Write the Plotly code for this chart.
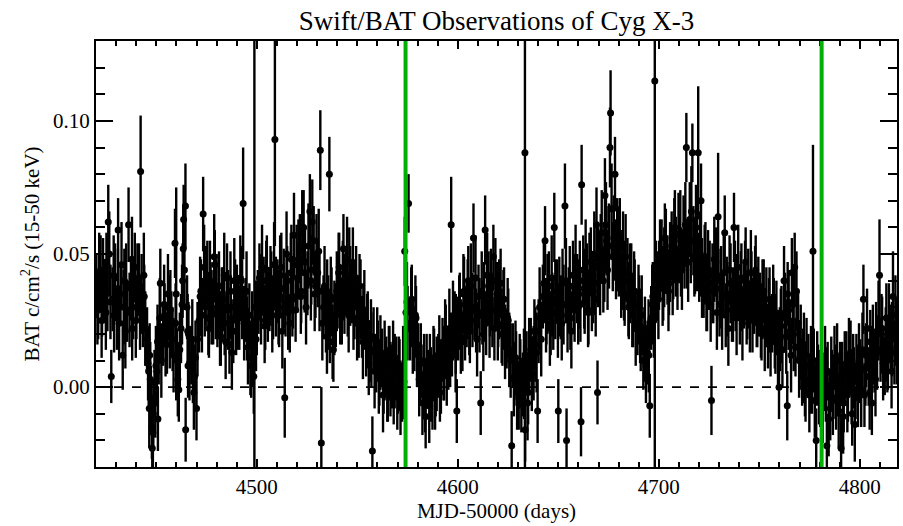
import plotly.graph_objects as go

# ---------------- data ----------------
# first set of points
t = [
    4420.2, 4421.1, 4422.3, 4423.0, 4424.4, 4425.2, 4426.1, 4427.6, 4428.3, 4429.5,
    4430.4, 4431.0, 4432.2, 4433.3, 4434.1, 4435.5, 4436.2, 4437.4, 4438.0, 4439.3,
    4440.1, 4441.4, 4442.2, 4443.3, 4444.0, 4445.4, 4446.2, 4446.7, 4447.3, 4447.8, 4448.0, 4448.5, 4449.1, 4449.5,
    4450.3, 4450.8, 4451.2, 4452.0, 4453.4, 4454.1, 4455.3, 4456.2, 4457.5, 4458.1, 4459.3, 4459.9,
    4460.2, 4461.2, 4462.3, 4463.1, 4463.6, 4464.5, 4464.6, 4465.3, 4465.8, 4466.0, 4467.4, 4468.2, 4469.0,
    4470.0, 4471.3, 4472.2, 4473.3, 4474.1, 4475.4, 4476.2, 4477.0, 4478.3, 4479.1,
    4480.4, 4481.2, 4482.1, 4483.3, 4484.0, 4485.2, 4486.4, 4487.1, 4488.3, 4489.2,
    4490.1, 4491.3, 4492.2, 4493.2, 4494.4, 4495.1, 4496.3, 4497.2, 4498.0, 4498.8, 4499.6,
    4500.5, 4501.3, 4502.1, 4503.4, 4504.2, 4505.0, 4506.3, 4507.2, 4508.1, 4509.0,
    4510.3, 4511.1, 4512.2, 4513.9, 4514.3, 4515.1, 4516.4, 4517.2, 4518.0, 4519.3,
    4520.2, 4521.4, 4522.1, 4523.3, 4524.0, 4525.2, 4526.4, 4527.1, 4528.3, 4529.2,
    4530.3, 4531.6, 4532.1, 4533.2, 4534.4, 4535.0, 4536.1, 4536.3, 4537.2, 4538.1, 4539.3,
    4540.2, 4541.0, 4542.3, 4543.1, 4544.4, 4545.2, 4546.0, 4547.3, 4548.1, 4549.4,
    4550.2, 4551.1, 4552.3, 4553.0, 4554.4, 4555.2, 4556.3, 4557.5, 4558.1, 4559.4,
    4560.2, 4561.0, 4562.3, 4563.1, 4564.4, 4565.2, 4566.0, 4567.3, 4568.1, 4569.4,
    4570.2, 4571.0, 4572.3, 4573.6, 4574.2, 4575.5, 4576.3, 4577.1, 4578.4, 4579.2,
    4580.3, 4581.1, 4582.4, 4583.2, 4584.0, 4585.3, 4586.1, 4587.4, 4588.2, 4589.0,
    4590.3, 4591.1, 4592.4, 4593.2, 4594.0, 4595.3, 4596.7, 4597.1, 4598.4, 4599.5,
    4600.2, 4601.0, 4602.3, 4603.1, 4604.4, 4605.2, 4606.0, 4607.8, 4608.3, 4609.1,
    4610.3, 4611.4, 4612.2, 4613.6, 4614.1, 4615.3, 4616.0, 4617.7, 4618.2, 4619.4,
    4620.1, 4621.3, 4622.2, 4623.0, 4624.3, 4625.1, 4626.8, 4627.4, 4628.2, 4629.0,
    4630.3, 4631.1, 4632.4, 4633.4, 4633.5, 4634.2, 4635.0, 4636.3, 4637.2, 4638.1, 4639.7,
    4640.2, 4641.0, 4642.3, 4643.4, 4644.1, 4645.3, 4646.2, 4647.0, 4648.0, 4649.3,
    4650.0, 4651.2, 4652.1, 4653.3, 4654.1, 4655.2, 4656.0, 4657.3, 4658.1, 4659.4,
    4660.2, 4661.3, 4661.6, 4662.4, 4663.1, 4664.3, 4665.0, 4666.2, 4667.4, 4668.1, 4669.0, 4669.5,
    4670.3, 4671.1, 4672.4, 4673.2, 4674.0, 4675.7, 4676.0, 4677.1, 4678.2, 4679.3,
    4680.1, 4681.3, 4682.2, 4683.0, 4684.4, 4685.1, 4686.3, 4687.2, 4688.0, 4689.4,
    4690.2, 4691.0, 4692.3, 4693.1, 4694.4, 4695.5, 4696.2, 4697.0, 4698.0, 4699.3,
    4700.1, 4701.4, 4702.2, 4703.0, 4704.3, 4705.1, 4706.4, 4707.2, 4708.0, 4709.3,
    4710.2, 4711.0, 4712.3, 4713.7, 4714.1, 4715.4, 4716.7, 4717.2, 4718.0, 4719.6,
    4720.1, 4721.0, 4722.3, 4723.2, 4724.0, 4725.3, 4726.2, 4727.1, 4728.4, 4729.5,
    4730.2, 4731.0, 4732.8, 4733.3, 4734.1, 4735.2, 4736.4, 4737.4, 4738.2, 4739.0,
    4740.3, 4741.1, 4742.4, 4743.2, 4744.0, 4745.3, 4746.1, 4747.4, 4748.2, 4749.0,
    4750.3, 4751.1, 4752.2, 4753.0, 4754.3, 4755.1, 4756.4, 4757.2, 4758.0, 4759.8,
    4760.2, 4761.0, 4762.3, 4763.9, 4764.1, 4765.3, 4766.2, 4767.6, 4768.0, 4769.3,
    4770.1, 4771.3, 4772.2, 4773.0, 4774.4, 4775.2, 4776.7, 4777.1, 4778.3, 4779.2,
    4780.3, 4781.1, 4782.2, 4783.6, 4784.0, 4785.3, 4786.1, 4787.4, 4788.2, 4789.0,
    4790.7, 4791.2, 4792.0, 4793.3, 4794.1, 4795.4, 4796.2, 4797.0, 4798.3, 4799.1,
    4800.2, 4801.8, 4802.3, 4803.1, 4804.4, 4805.2, 4806.0, 4807.3, 4808.1, 4809.8,
    4810.3, 4811.1, 4812.4, 4813.2, 4814.0, 4815.3, 4816.5, 4817.2, 4818.0,
]

rate = [
    .038, .029, .044, .031, .036, .047, .062, .004, .033, .041,
    .026, .059, .035, .012, .040, .028, .061, .037, .022, .045,
    .030, .041, .081, .027, .034, .018, .006, .012, -.004, -.015, -.023, -.010, .002, -.006,
    .006, -.012, .014, .039, .020, .027, .016, .030, .024, .018, .054, .035,
    .010, -.001, .022, .040, .063, .068, -.016, .030, .008, .020, .012, .006, .004,
    -.008, .025, .036, .065, .031, .042, .022, .035, .028, .046,
    .027, .038, .019, .033, .024, .041, .016, .030, .021, .036,
    .034, .026, .040, .069, .029, .022, .027, .008, .013, .030, .018,
    .032, .041, .028, .037, .025, .044, .033, .039, .030, .093,
    .036, .027, .045, -.004, .031, .040, .024, .048, .034, .029,
    .041, .052, .036, .060, .047, .039, .066, .044, .055, .038,
    .043, .089, -.021, .030, .025, .036, .080, .021, .033, .014, .027,
    .034, .045, .028, .052, .039, .031, .047, .036, .026, .041,
    .030, .038, .022, .027, .016, .024, .013, -.024, .018, .009,
    .014, .005, .011, .002, .008, -.001, .012, .004, -.003, .007,
    .001, .006, -.002, .051, .028, .069, .022, .033, .018, .026,
    .012, .004, -.006, .009, -.011, .003, .008, -.004, .011, .001,
    .008, -.002, .014, .006, .019, .011, .061, .016, .024, -.009,
    .022, .031, .017, .036, .027, .040, .021, .056, .030, .025,
    .034, -.006, .028, .059, .024, .038, .031, .049, .022, .035,
    .027, .039, .020, .033, .018, .025, -.022, .012, .004, .009,
    -.004, .007, .001, .088, -.016, .010, -.002, .014, .008, .021, -.009,
    .021, .026, .034, .055, .028, .038, .024, .031, .060, .036,
    -.009, .030, .039, .068, -.020, .033, .026, .042, .029, .037,
    .035, -.013, .076, .044, .032, .041, .028, .047, .036, .039, .061, -.002,
    .046, .052, .040, .072, .055, .090, .103, .049, .080, .058,
    .047, .038, .053, .035, .043, .030, .041, .027, .036, .024,
    .030, .018, .010, .022, .013, -.007, .026, .034, .115, .038,
    .042, .050, .037, .056, .044, .039, .053, .046, .060, .041,
    .052, .047, .058, .090, .050, .063, .088, .055, .048, .088,
    .045, .070, .038, .049, .033, .042, -.005, .036, .047, .064,
    .031, .040, .058, .027, .035, .044, .029, .060, .033, .038,
    .028, .041, .034, .047, .030, .025, .039, .032, .044, .027,
    .031, .022, .036, .026, .019, .033, .024, .029, .017, .000,
    .018, .026, .040, -.007, .035, .021, .043, .045, .015, .024,
    .011, .004, .016, -.002, .008, .001, .051, .010, -.020, .005,
    -.003, .007, .002, -.022, .006, -.008, .003, .011, -.005, .001,
    -.023, .005, -.006, .009, -.002, .013, -.010, .004, .008, -.004,
    .006, .033, -.003, .012, .004, .017, -.006, .010, .020, .042,
    .014, .022, .008, .026, .011, .019, .034, .013, .021,
]

err = [
    .012, .011, .013, .012, .012, .011, .014, .010, .012, .013,
    .012, .012, .011, .013, .012, .011, .014, .012, .012, .013,
    .012, .013, .021, .012, .012, .012, .013, .012, .012, .012, .011, .013, .012, .013,
    .012, .012, .013, .013, .012, .012, .011, .012, .012, .012, .013, .040,
    .012, .012, .013, .014, .013, .016, .012, .012, .012, .012, .011, .012, .012,
    .012, .012, .012, .014, .012, .013, .011, .012, .012, .013,
    .012, .013, .011, .012, .012, .013, .011, .012, .012, .012,
    .012, .012, .013, .021, .012, .012, .012, .012, .013, .110, .012,
    .012, .013, .012, .012, .011, .013, .012, .012, .012, .040,
    .012, .012, .013, .015, .012, .013, .011, .013, .012, .012,
    .013, .013, .012, .014, .012, .012, .014, .013, .013, .012,
    .013, .015, .021, .012, .012, .012, .014, .012, .012, .012, .012,
    .012, .013, .012, .013, .012, .012, .013, .012, .012, .012,
    .012, .012, .011, .012, .012, .012, .011, .013, .012, .011,
    .011, .012, .011, .012, .011, .012, .011, .012, .011, .012,
    .011, .012, .011, .013, .012, .011, .012, .013, .012, .012,
    .012, .011, .012, .011, .012, .011, .012, .012, .011, .012,
    .012, .011, .012, .011, .012, .012, .018, .012, .012, .012,
    .012, .012, .011, .013, .012, .013, .012, .013, .012, .012,
    .012, .012, .012, .013, .012, .013, .012, .012, .012, .012,
    .012, .013, .012, .012, .011, .012, .013, .012, .011, .012,
    .012, .011, .012, .120, .012, .011, .012, .012, .011, .012, .012,
    .012, .012, .012, .013, .012, .013, .012, .012, .013, .012,
    .012, .012, .013, .016, .012, .012, .012, .013, .012, .013,
    .013, .013, .015, .013, .012, .013, .012, .013, .012, .012, .014, .012,
    .013, .013, .012, .014, .013, .015, .016, .013, .014, .013,
    .013, .012, .013, .012, .013, .012, .013, .012, .012, .012,
    .012, .012, .011, .012, .012, .012, .012, .013, .150, .013,
    .013, .013, .012, .013, .013, .012, .013, .013, .014, .012,
    .013, .013, .014, .013, .013, .014, .011, .013, .013, .025,
    .013, .014, .012, .013, .012, .013, .013, .012, .013, .024,
    .012, .013, .014, .012, .012, .013, .012, .013, .012, .012,
    .012, .013, .012, .013, .012, .012, .012, .012, .013, .012,
    .012, .012, .012, .011, .012, .012, .011, .012, .012, .012,
    .012, .012, .013, .013, .012, .012, .013, .013, .011, .012,
    .012, .011, .012, .011, .012, .011, .040, .012, .012, .011,
    .012, .012, .011, .012, .011, .012, .011, .012, .011, .012,
    .012, .012, .011, .012, .011, .012, .012, .011, .012, .011,
    .012, .013, .012, .012, .011, .012, .012, .012, .012, .021,
    .012, .012, .011, .013, .012, .012, .017, .012, .013,
]

# second set of points (interleaved in time)
t2 = [
    4420.7, 4421.6, 4422.8, 4423.5, 4424.9, 4425.7, 4426.6, 4427.2, 4428.8, 4429.0,
    4430.9, 4431.5, 4432.7, 4433.8, 4434.6, 4435.0, 4436.7, 4437.9, 4438.5, 4439.8,
    4440.6, 4441.9, 4442.7, 4443.8, 4444.5, 4445.9, 4446.5, 4447.0, 4448.3, 4449.8,
    4450.6, 4451.7, 4452.5, 4453.9, 4454.6, 4455.8, 4456.7, 4457.0, 4458.6, 4459.6,
    4460.7, 4461.7, 4462.8, 4463.4, 4464.0, 4465.6, 4466.5, 4467.9, 4468.7, 4469.5,
    4470.5, 4471.8, 4472.7, 4473.8, 4474.6, 4475.9, 4476.7, 4477.5, 4478.8, 4479.6,
    4480.9, 4481.7, 4482.6, 4483.8, 4484.5, 4485.7, 4486.9, 4487.6, 4488.8, 4489.7,
    4490.6, 4491.8, 4492.7, 4493.7, 4494.9, 4495.6, 4496.8, 4497.7, 4498.5, 4499.2,
    4500.0, 4501.8, 4502.6, 4503.9, 4504.7, 4505.5, 4506.8, 4507.7, 4508.6, 4509.5,
    4510.8, 4511.6, 4512.7, 4513.4, 4514.8, 4515.6, 4516.9, 4517.7, 4518.5, 4519.8,
    4520.7, 4521.9, 4522.6, 4523.8, 4524.5, 4525.7, 4526.9, 4527.6, 4528.8, 4529.7,
    4530.8, 4531.2, 4532.6, 4533.7, 4534.9, 4535.5, 4536.8, 4537.7, 4538.6, 4539.8,
    4540.7, 4541.5, 4542.8, 4543.6, 4544.9, 4545.7, 4546.5, 4547.8, 4548.6, 4549.9,
    4550.7, 4551.6, 4552.8, 4553.5, 4554.9, 4555.7, 4556.8, 4557.0, 4558.6, 4559.9,
    4560.7, 4561.5, 4562.8, 4563.6, 4564.9, 4565.7, 4566.5, 4567.8, 4568.6, 4569.9,
    4570.7, 4571.5, 4572.8, 4573.2, 4574.7, 4575.0, 4576.8, 4577.6, 4578.9, 4579.7,
    4580.8, 4581.6, 4582.9, 4583.7, 4584.5, 4585.8, 4586.6, 4587.9, 4588.7, 4589.5,
    4590.8, 4591.6, 4592.9, 4593.7, 4594.5, 4595.8, 4596.2, 4597.6, 4598.9, 4599.0,
    4600.7, 4601.5, 4602.8, 4603.6, 4604.9, 4605.7, 4606.5, 4607.3, 4608.8, 4609.6,
    4610.8, 4611.9, 4612.7, 4613.1, 4614.6, 4615.8, 4616.5, 4617.2, 4618.7, 4619.9,
    4620.6, 4621.8, 4622.7, 4623.5, 4624.8, 4625.6, 4626.3, 4627.9, 4628.7, 4629.5,
    4630.8, 4631.6, 4632.9, 4633.0, 4634.7, 4635.5, 4636.8, 4637.7, 4638.6, 4639.2,
    4640.7, 4641.5, 4642.8, 4643.9, 4644.6, 4645.8, 4646.7, 4647.5, 4648.5, 4649.8,
    4650.5, 4651.7, 4652.6, 4653.8, 4654.6, 4655.7, 4656.5, 4657.8, 4658.6, 4659.9,
    4660.7, 4661.0, 4662.9, 4663.6, 4664.8, 4665.5, 4666.7, 4667.9, 4668.6, 4669.8,
    4670.8, 4671.6, 4672.9, 4673.7, 4674.5, 4675.2, 4676.5, 4677.6, 4678.7, 4679.8,
    4680.6, 4681.8, 4682.7, 4683.5, 4684.9, 4685.6, 4686.8, 4687.7, 4688.5, 4689.9,
    4690.7, 4691.5, 4692.8, 4693.6, 4694.9, 4695.0, 4696.7, 4697.5, 4698.5, 4699.8,
    4700.6, 4701.9, 4702.7, 4703.5, 4704.8, 4705.6, 4706.9, 4707.7, 4708.5, 4709.8,
    4710.7, 4711.5, 4712.8, 4713.2, 4714.6, 4715.9, 4716.2, 4717.7, 4718.5, 4719.1,
    4720.6, 4721.5, 4722.8, 4723.7, 4724.5, 4725.8, 4726.7, 4727.6, 4728.9, 4729.0,
    4730.7, 4731.5, 4732.3, 4733.8, 4734.6, 4735.7, 4736.9, 4737.9, 4738.7, 4739.5,
    4740.8, 4741.6, 4742.9, 4743.7, 4744.5, 4745.8, 4746.6, 4747.9, 4748.7, 4749.5,
    4750.8, 4751.6, 4752.7, 4753.5, 4754.8, 4755.6, 4756.9, 4757.7, 4758.5, 4759.3,
    4760.7, 4761.5, 4762.8, 4763.4, 4764.6, 4765.8, 4766.7, 4767.1, 4768.5, 4769.8,
    4770.6, 4771.8, 4772.7, 4773.5, 4774.9, 4775.7, 4776.2, 4777.6, 4778.8, 4779.7,
    4780.8, 4781.6, 4782.7, 4783.1, 4784.5, 4785.8, 4786.6, 4787.9, 4788.7, 4789.5,
    4790.2, 4791.7, 4792.5, 4793.8, 4794.6, 4795.9, 4796.7, 4797.5, 4798.8, 4799.6,
    4800.7, 4801.3, 4802.8, 4803.6, 4804.9, 4805.7, 4806.5, 4807.8, 4808.6, 4809.3,
    4810.8, 4811.6, 4812.9, 4813.7, 4814.5, 4815.8, 4816.0, 4817.7, 4818.4,
]

rate2 = [
    .030, .043, .025, .040, .028, .036, .050, .032, .042, .027,
    .037, .024, .046, .030, .021, .039, .029, .048, .033, .025,
    .039, .028, .035, .042, .022, .009, -.008, .003, -.017, .008,
    .017, .026, .010, .031, .018, .035, .021, .029, .012, .024,
    .003, .014, .031, .052, .044, .021, .009, .018, -.002, .011,
    .018, .034, .027, .045, .038, .026, .040, .030, .049, .033,
    .035, .022, .031, .042, .017, .029, .036, .013, .040, .026,
    .028, .041, .033, .024, .036, .015, .011, .021, .004, .025,
    .026, .035, .045, .023, .040, .031, .038, .027, .046, .034,
    .030, .042, .021, .037, .050, .028, .043, .033, .057, .046,
    .048, .034, .058, .043, .030, .053, .040, .062, .035, .050,
    .051, .036, .024, .038, .019, .028, .034, .017, .026, .036,
    .043, .030, .040, .035, .048, .027, .038, .044, .033, .024,
    .025, .033, .017, .029, .021, .011, .019, .014, .006, .016,
    .004, .013, -.003, .010, .001, .009, .003, .010, .006, -.002,
    .005, -.004, .008, .002, .032, .024, .030, .019, .027, .014,
    .003, .010, .002, -.003, .006, -.007, .001, .009, -.002, .005,
    .013, .004, .009, .018, .007, .022, .014, .025, .012, .020,
    .028, .019, .035, .024, .033, .026, .038, .029, .041, .018,
    .027, .036, .020, .032, .042, .025, .037, .029, .040, .024,
    .033, .023, .029, .017, .026, .014, .010, .003, .011, -.002,
    .006, -.003, .008, .002, -.006, .012, .005, .009, .016, .013,
    .030, .018, .039, .027, .035, .022, .041, .028, .033, .025,
    .034, .024, .031, .040, .027, .038, .021, .035, .045, .030,
    .040, .031, .037, .047, .029, .043, .036, .050, .033, .045,
    .042, .058, .047, .061, .044, .053, .067, .056, .048, .052,
    .055, .044, .040, .049, .033, .039, .029, .036, .022, .031,
    .023, .027, .016, .008, .019, .012, .031, .025, .040, .033,
    .048, .038, .045, .051, .036, .047, .042, .055, .049, .057,
    .058, .044, .053, .061, .047, .055, .066, .049, .060, .052,
    .050, .041, .046, .035, .044, .031, .039, .048, .028, .040,
    .037, .028, .043, .034, .022, .039, .031, .040, .026, .045,
    .036, .024, .040, .030, .037, .043, .027, .038, .029, .034,
    .025, .033, .020, .030, .027, .018, .031, .021, .026, .015,
    .023, .014, .028, .019, .029, .012, .031, .020, .036, .010,
    .017, .008, .003, .012, -.003, .009, .004, -.005, .007, .000,
    .004, -.007, .009, .001, -.012, .005, -.004, .002, .010, -.009,
    .003, -.011, .007, -.003, .012, .000, .006, -.014, .002, .010,
    -.001, .014, .007, .022, -.002, .009, .016, .003, .013, .025,
    .020, .009, .016, .012, .024, .006, .018, .027, .015,
]

err2 = [
    .014, .015, .014, .016, .014, .015, .016, .014, .015, .014,
    .015, .014, .016, .014, .014, .015, .014, .016, .015, .014,
    .015, .014, .015, .016, .014, .014, .015, .014, .014, .015,
    .014, .015, .014, .015, .014, .015, .014, .015, .014, .015,
    .014, .014, .015, .016, .015, .014, .014, .015, .014, .014,
    .014, .015, .014, .016, .015, .014, .015, .014, .016, .015,
    .015, .014, .014, .016, .014, .015, .015, .014, .016, .014,
    .014, .016, .015, .014, .015, .014, .014, .015, .014, .015,
    .014, .015, .016, .014, .015, .014, .015, .014, .016, .015,
    .014, .015, .014, .015, .016, .014, .015, .014, .016, .015,
    .015, .014, .016, .015, .014, .016, .015, .016, .014, .015,
    .016, .015, .014, .015, .014, .014, .015, .014, .014, .015,
    .015, .014, .015, .015, .016, .014, .015, .016, .015, .014,
    .014, .015, .014, .015, .014, .014, .014, .014, .014, .014,
    .014, .014, .014, .015, .014, .014, .014, .015, .014, .014,
    .014, .014, .015, .014, .015, .014, .015, .014, .015, .014,
    .014, .014, .014, .014, .014, .014, .014, .014, .014, .014,
    .014, .014, .014, .015, .014, .015, .014, .015, .014, .015,
    .014, .014, .015, .014, .015, .014, .016, .014, .016, .014,
    .014, .015, .014, .015, .016, .014, .015, .014, .016, .014,
    .015, .014, .015, .014, .015, .014, .014, .014, .014, .014,
    .014, .014, .014, .014, .014, .014, .014, .014, .014, .015,
    .015, .014, .015, .014, .015, .014, .016, .014, .015, .014,
    .015, .014, .015, .016, .014, .015, .014, .015, .016, .014,
    .015, .014, .015, .016, .014, .015, .015, .016, .014, .015,
    .015, .016, .015, .016, .015, .016, .017, .016, .015, .016,
    .016, .015, .015, .016, .014, .015, .014, .015, .014, .015,
    .014, .015, .014, .014, .014, .014, .015, .014, .015, .015,
    .015, .015, .015, .016, .015, .015, .015, .016, .015, .016,
    .016, .015, .016, .016, .015, .016, .017, .015, .016, .016,
    .016, .015, .015, .014, .015, .014, .015, .016, .014, .015,
    .015, .014, .015, .015, .014, .015, .014, .015, .014, .016,
    .015, .014, .015, .014, .015, .016, .014, .015, .014, .015,
    .014, .015, .014, .015, .014, .014, .015, .014, .014, .014,
    .014, .014, .015, .014, .015, .014, .015, .014, .015, .014,
    .014, .014, .014, .014, .014, .014, .014, .014, .014, .014,
    .014, .014, .014, .014, .014, .014, .014, .014, .014, .014,
    .014, .014, .014, .014, .014, .014, .014, .014, .014, .014,
    .014, .014, .014, .015, .014, .014, .015, .014, .014, .015,
    .015, .014, .014, .014, .015, .014, .014, .015, .014,
]

marker_days = [4574.0, 4781.0]       # green vertical markers (MJD-50000)
x_range = [4420.0, 4818.5]
y_range = [-0.03, 0.13]
x_ticks = [4500, 4600, 4700, 4800]
y_ticks = [0.00, 0.05, 0.10]

assert len(t) == len(rate) == len(err), (len(t), len(rate), len(err))
assert len(t2) == len(rate2) == len(err2), (len(t2), len(rate2), len(err2))

FONT = "Liberation Serif, Times New Roman, serif"

all_t = t + t2
all_r = rate + rate2
all_e = err + err2

fig = go.Figure()
fig.add_trace(go.Scatter(
    x=all_t, y=all_r, mode="markers",
    marker=dict(size=7, color="black"),
    error_y=dict(type="data", array=all_e, visible=True, color="black", thickness=2.4, width=0),
    hoverinfo="skip",
))

# zero reference line (dashed, below the data)
fig.add_shape(type="line", xref="paper", yref="y", x0=0, x1=1, y0=0, y1=0,
              line=dict(color="black", width=1.6, dash="dash"), layer="below")
# green markers (above the data)
for d in marker_days:
    fig.add_shape(type="line", xref="x", yref="paper", x0=d, x1=d, y0=0, y1=1,
                  line=dict(color="#00b000", width=4), layer="above")

fig.update_layout(
    width=903, height=526,
    margin=dict(l=96, r=4, t=41, b=59),
    paper_bgcolor="white", plot_bgcolor="white",
    showlegend=False,
    font=dict(family=FONT, color="black", size=21),
    title=dict(text="Swift/BAT Observations of Cyg X-3", x=0.5, xref="paper", xanchor="center",
               y=1 - 21 / 526, yref="container", yanchor="middle",
               font=dict(family=FONT, size=27, color="black")),
)

fig.update_xaxes(
    range=x_range, tickvals=x_ticks, ticktext=[str(v) for v in x_ticks],
    ticks="inside", ticklen=8, tickwidth=2, tickcolor="black",
    showline=True, linewidth=2, linecolor="black", mirror="ticks",
    showgrid=False, zeroline=False,
    minor=dict(ticks="inside", tick0=4400, dtick=10, ticklen=5, tickwidth=2, tickcolor="black", showgrid=False),
    tickfont=dict(family=FONT, size=21),
    title=dict(text="MJD-50000 (days)", font=dict(family=FONT, size=21), standoff=4),
)
fig.update_yaxes(
    range=y_range, tickvals=y_ticks, ticktext=["%.2f" % v for v in y_ticks],
    ticks="inside", ticklen=17, tickwidth=2, tickcolor="black",
    showline=True, linewidth=2, linecolor="black", mirror="ticks",
    showgrid=False, zeroline=False,
    minor=dict(ticks="inside", tick0=0, dtick=0.01, ticklen=9, tickwidth=2, tickcolor="black", showgrid=False),
    tickfont=dict(family=FONT, size=21),
    title=dict(text="BAT c/cm<sup>2</sup>/s (15-50 keV)", font=dict(family=FONT, size=21), standoff=8),
)

fig.write_html("out.html")
